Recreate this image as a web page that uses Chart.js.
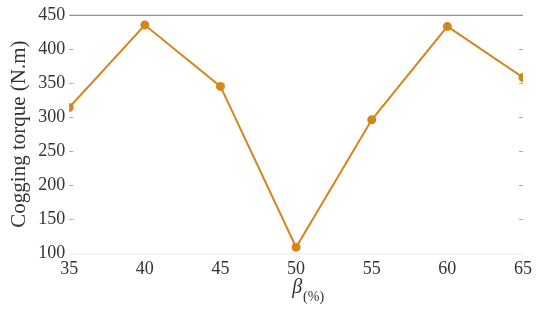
<!DOCTYPE html>
<html>
<head>
<meta charset="utf-8">
<script src="https://cdn.jsdelivr.net/npm/chart.js@4.4.1/dist/chart.umd.min.js"></script>
<style>
  html, body { margin: 0; padding: 0; background: #fff; }
</style>
</head>
<body>
<canvas id="cogChart" width="550" height="310"></canvas>
<script>
// data
const betaValues = [35, 40, 45, 50, 55, 60, 65];
const cogTorque = [314, 435, 345, 109, 296, 433, 358];
const yTicks = [100, 150, 200, 250, 300, 350, 400, 450];

const lineColor = '#d4861c';
const serif = '"Liberation Serif", "DejaVu Serif", serif';

// petits traits de graduation + ligne du haut + titre de l'axe x
const frameTicksPlugin = {
    id: 'frameTicks',
    afterDraw(chart) {
        const { ctx, chartArea: a, scales } = chart;
        ctx.save();
        // top line
        ctx.strokeStyle = '#777';
        ctx.lineWidth = 1;
        ctx.beginPath();
        ctx.moveTo(a.left, a.top + 0.5);
        ctx.lineTo(a.right, a.top + 0.5);
        ctx.stroke();
        // bottom line (pale)
        ctx.strokeStyle = '#e6e6e6';
        ctx.beginPath();
        ctx.moveTo(a.left, a.bottom + 0.5);
        ctx.lineTo(a.right, a.bottom + 0.5);
        ctx.stroke();
        // y ticks left and right
        ctx.strokeStyle = '#aaa';
        yTicks.forEach(v => {
            if (v === 100 || v === 450) return;
            const y = Math.round(scales.y.getPixelForValue(v)) + 0.5;
            ctx.beginPath();
            ctx.moveTo(a.left, y); ctx.lineTo(a.left + 4, y);
            ctx.moveTo(a.right - 4, y); ctx.lineTo(a.right, y);
            ctx.stroke();
        });
        // x axis title with subscript
        const cx = (a.left + a.right) / 2 + 6;
        ctx.fillStyle = '#333';
        ctx.textBaseline = 'alphabetic';
        ctx.textAlign = 'right';
        ctx.font = 'italic 20px ' + serif;
        ctx.fillText('β', cx, 293);
        ctx.textAlign = 'left';
        ctx.font = '14px ' + serif;
        ctx.fillText('(%)', cx + 1, 301);
        ctx.restore();
    }
};

new Chart(document.getElementById('cogChart'), {
    type: 'line',
    data: {
        datasets: [{
            data: betaValues.map((b, i) => ({ x: b, y: cogTorque[i] })),
            borderColor: lineColor,
            backgroundColor: lineColor,
            borderWidth: 2,
            pointRadius: 3.5,
            pointHoverRadius: 3.5,
            tension: 0
        }]
    },
    plugins: [frameTicksPlugin],
    options: {
        responsive: false,
        animation: false,
        devicePixelRatio: 1,
        layout: { padding: { top: 6, right: 27, bottom: 25, left: 7 } },
        plugins: { legend: { display: false }, tooltip: { enabled: false } },
        scales: {
            x: {
                type: 'linear',
                min: 35, max: 65,
                afterBuildTicks: s => { s.ticks = betaValues.map(v => ({ value: v })); },
                grid: { display: false, drawTicks: false },
                border: { display: false },
                ticks: { color: '#333', font: { family: serif, size: 18 }, padding: 5, maxRotation: 0 }
            },
            y: {
                min: 100, max: 450,
                afterBuildTicks: s => { s.ticks = yTicks.map(v => ({ value: v })); },
                grid: { display: false, drawTicks: false },
                border: { display: false },
                ticks: { color: '#333', font: { family: serif, size: 18 }, padding: 4 },
                title: {
                    display: true,
                    text: 'Cogging torque (N.m)',
                    color: '#333',
                    font: { family: serif, size: 21 },
                    padding: { top: 0, bottom: 2 }
                }
            }
        }
    }
});
</script>
</body>
</html>
